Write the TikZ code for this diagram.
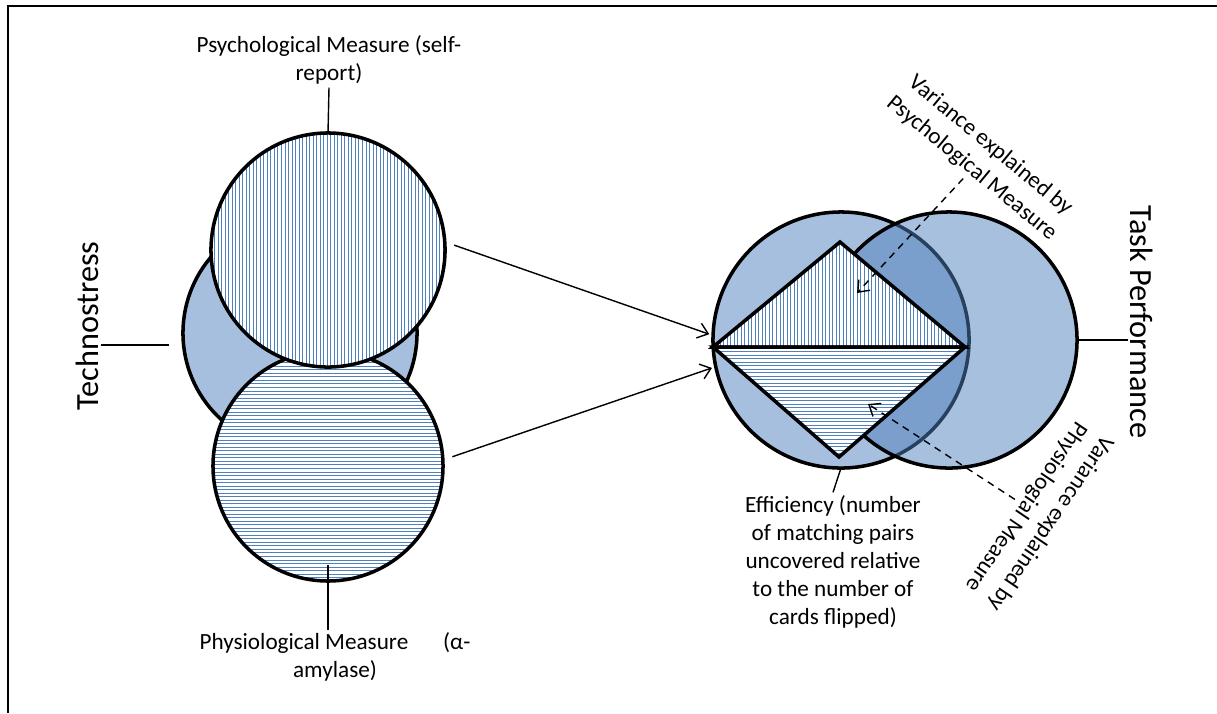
\documentclass[tikz,border=0pt]{standalone}
\usepackage{fontspec}
\setmainfont{Carlito}
\usetikzlibrary{arrows.meta}
\definecolor{lightblue}{HTML}{A7BFDE}
\definecolor{midblue}{HTML}{4F81BD}
\tikzset{
  hatchline/.style={draw=midblue, line width=0.55pt},
  hatchv/.style={fill=white, path picture={
      \foreach \k in {0,...,80}
        \draw[hatchline] ([xshift=\k*0.088cm]path picture bounding box.south west)
          -- ([xshift=\k*0.088cm]path picture bounding box.north west);}},
  hatchh/.style={fill=white, path picture={
      \foreach \k in {0,...,80}
        \draw[hatchline] ([yshift=\k*0.088cm]path picture bounding box.south west)
          -- ([yshift=\k*0.088cm]path picture bounding box.south east);}},
  label/.style={align=center, inner sep=2pt, font=\fontsize{16.5}{20}\selectfont},
  biglabel/.style={inner sep=2pt, font=\fontsize{23}{28}\selectfont},
  varlabel/.style={align=center, inner sep=2pt, font=\fontsize{16.5}{21}\selectfont}
}
\begin{document}
\begin{tikzpicture}[x=0.025cm, y=-0.025cm, >={Straight Barb[length=7pt,width=11pt]}]
  \useasboundingbox (0,0) rectangle (1217,713);
  \draw[line width=1.5pt] (8,713) -- (8,6) -- (1217,6);
  \begin{scope}[every node/.style={circle, draw=black, line width=2.5pt, inner sep=0pt, outer sep=0pt}]
    \node[fill=lightblue, minimum size=5.85cm] (techno) at (300,333) {};
    \node[hatchh, minimum size=5.75cm] (physio) at (328,466) {};
    \node[hatchv, minimum size=5.85cm] (psych) at (328,250) {};
    \node[fill=lightblue, minimum size=6.4cm] (eff) at (841,340) {};
    \node[fill=midblue, fill opacity=0.5, minimum size=6.4cm] (task) at (949,340) {};
  \end{scope}
  % diamond of the two measures
  \coordinate (dleft) at (713,347);
  \coordinate (dtop) at (840,242);
  \coordinate (dright) at (965,347);
  \coordinate (dbottom) at (839,457);
  \draw[hatchv, draw=black, line width=2.5pt] (dleft) -- (dtop) -- (dright) -- cycle;
  \draw[hatchh, draw=black, line width=2.5pt] (dleft) -- (dbottom) -- (dright) -- cycle;
  % labels
  \node[label] (psychlbl) at (329,60) {Psychological Measure (self-\\report)};
  \node[label] (physlbl) at (335,657) {Physiological Measure\hspace{1.5em}(α-\\amylase)};
  \node[label] (efflbl) at (833,562) {Efficiency (number\\of matching pairs\\uncovered relative\\to the number of\\cards flipped)};
  \node[biglabel, rotate=90] (techlbl) at (87,326) {Technostress};
  \node[biglabel, rotate=-90] (tasklbl) at (1142,322) {Task Performance};
  \node[varlabel, rotate=-39.6] (psychvar) at (981,157) {Variance explained by\\Psychological Measure};
  \node[varlabel, rotate=236] (physvar) at (1038,515) {Variance explained by\\Physiologial Measure};
  \coordinate (technotick) at (169,345);
  \coordinate (psychtip) at (857,293);
  \coordinate (phystip) at (868,404);
  \begin{scope}[line width=1pt]
    \draw (psychlbl.south) -- (psych.north);
    \draw ([yshift=0.4cm]physio.south) -- (physlbl.north -| physio.south);
    \draw (eff.south) -- (efflbl.north);
    \draw (techlbl.south |- technotick) -- (technotick);
    \draw (task.east) -- (tasklbl.south |- task.east);
    \draw[->, shorten <=0.25cm, shorten >=0.1cm] (psych.4) -- (eff.178);
    \draw[->, shorten <=0.25cm, shorten >=0.1cm] (physio.3) -- (eff.192);
    \draw[->, dash pattern=on 5pt off 4pt] (psychvar.south) -- (psychtip);
    \draw[->, dash pattern=on 5pt off 4pt] (physvar.south) -- (phystip);
  \end{scope}
\end{tikzpicture}
\end{document}
